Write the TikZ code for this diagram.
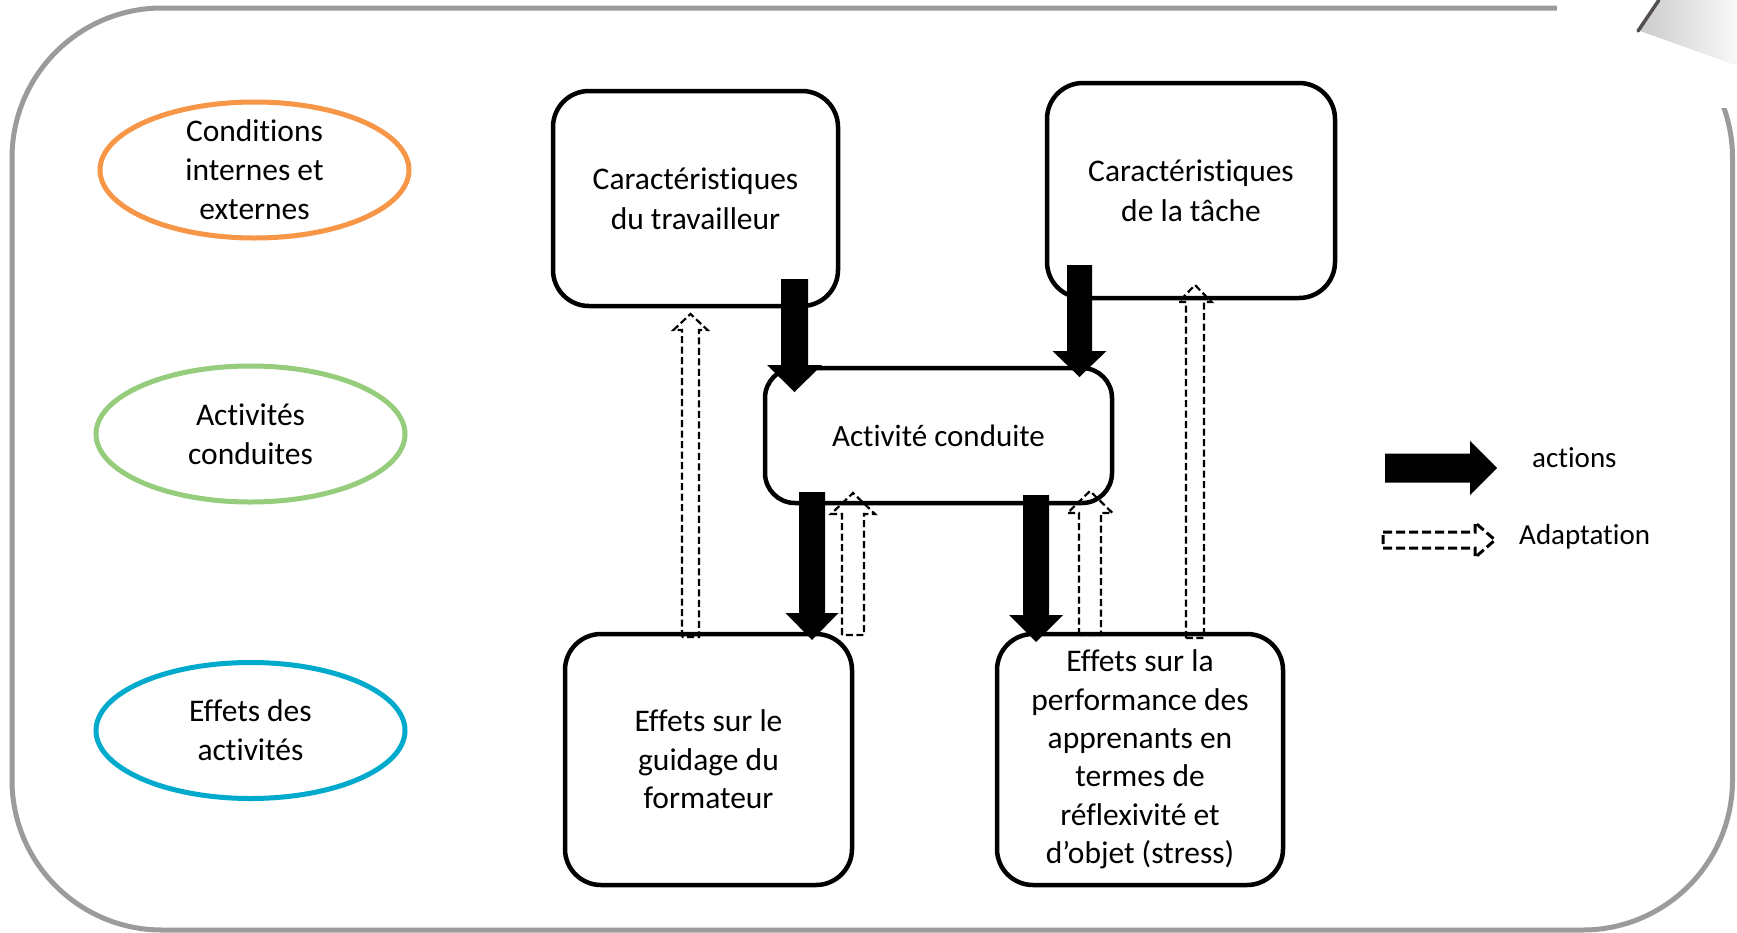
\documentclass[tikz,border=0pt]{standalone}
\usepackage{fontspec}
\setmainfont{Carlito}[Ligatures=NoCommon]
\usetikzlibrary{calc,shapes.geometric}
\definecolor{frameg}{RGB}{155,155,155}
\definecolor{corange}{RGB}{247,150,70}
\definecolor{cgreen}{RGB}{150,205,125}
\definecolor{cblue}{RGB}{0,170,204}
\definecolor{foldc}{RGB}{85,78,78}
% #1 style, #2 from, #3 to (tip), #4 half shaft, #5 half head, #6 head length
\newcommand\blockarrow[6]{%
  \coordinate (bahead) at ($(#3)!#6!(#2)$);
  \path[#1] ($(#2)!#4!90:(#3)$) -- ($(bahead)!#4!90:(#3)$) -- ($(bahead)!#5!90:(#3)$)
    -- (#3) -- ($(bahead)!#5!-90:(#3)$) -- ($(bahead)!#4!-90:(#3)$)
    -- ($(#2)!#4!-90:(#3)$) -- cycle;}
\begin{document}
\begin{tikzpicture}[x=1pt,y=-1pt,
  font=\fontsize{31.5pt}{38.4pt}\selectfont,
  box/.style={draw, line width=4.5pt, rounded corners=36pt, align=center, inner sep=0pt, outer sep=0pt, fill=white},
  ell/.style={draw, ellipse, line width=5pt, inner sep=0pt, outer sep=0pt, minimum width=309pt, minimum height=136pt},
  txt/.style={align=center, inner sep=0pt, font=\fontsize{31.5pt}{39pt}\selectfont},
  solidarr/.style={fill=black},
  dasharr/.style={draw=black, line width=2.2pt, dash pattern=on 7pt off 3.5pt, line join=miter},
  legdash/.style={draw=black, line width=3pt, dash pattern=on 9pt off 4pt, line join=miter},
  legtxt/.style={anchor=west, inner sep=0pt, font=\fontsize{29pt}{35pt}\selectfont}]
\useasboundingbox (0,0) rectangle (1737,932);
\fill[white] (0,0) rectangle (1737,932);
% frame
\draw[frameg, line width=5pt, rounded corners=150pt] (12,8) rectangle (1732.5,930);
% page curl
\fill[white] (1557,-3) rectangle (1740,108);
\shade[left color=gray!40, right color=gray!5] (1640,31) -- (1662,-1) -- (1738,-1) -- (1738,66) -- cycle;
\draw[foldc, line width=3.5pt, line cap=round] (1638,31) -- (1659,0);
% ellipses
\node[ell, draw=corange] (cond) at (254.5,170) {};
\node[txt] (condt) at (cond) {Conditions\\internes et\\externes};
\node[ell, draw=cgreen] (acts) at (250.5,434) {};
\node[txt] (actst) at (acts) {Activités\\conduites};
\node[ell, draw=cblue] (eff) at (250.5,730.5) {};
\node[txt] (efft) at (eff) {Effets des\\activités};
% boxes
\node[box, minimum width=285pt, minimum height=215pt, font=\fontsize{31.5pt}{40pt}\selectfont] (trav) at (695.5,198.5) {Caractéristiques\\du travailleur};
\node[box, minimum width=288pt, minimum height=215pt, font=\fontsize{31.5pt}{40pt}\selectfont] (tache) at (1191,190.5) {Caractéristiques\\de la tâche};
\node[box, rounded corners=30pt, minimum width=347pt, minimum height=135pt, font=\fontsize{31pt}{37pt}\selectfont] (act) at (938.5,435.5) {Activité conduite};
\node[box, minimum width=287pt, minimum height=251pt] (guid) at (708.5,759.5) {Effets sur le\\guidage du\\formateur};
\node[box, minimum width=286pt, minimum height=251pt] (perf) at (1140,759.5) {Effets sur la\\performance des\\apprenants en\\termes de\\réflexivité et\\d’objet (stress)};
% action arrows
\coordinate (a1s) at ($(trav.south east)+(-43.5,-27)$);
\coordinate (a1e) at ($(act.north west)+(29.5,24)$);
\blockarrow{solidarr}{a1s}{a1e}{13.5pt}{27.5pt}{27pt}
\coordinate (a2s) at ($(tache.south west)+(32.5,-33)$);
\coordinate (a2e) at ($(act.north east)+(-32.5,9)$);
\blockarrow{solidarr}{a2s}{a2e}{12.5pt}{27pt}{26pt}
\coordinate (a3s) at ($(act.south west)+(47,-11)$);
\coordinate (a3e) at ($(guid.north east)+(-40,6)$);
\blockarrow{solidarr}{a3s}{a3e}{13pt}{26.5pt}{27pt}
\coordinate (a4s) at ($(act.south east)+(-76,-8)$);
\coordinate (a4e) at ($(perf.north west)+(39,8)$);
\blockarrow{solidarr}{a4s}{a4e}{13pt}{27pt}{27pt}
% adaptation arrows
\coordinate (d1s) at ($(guid.north west)+(125.5,3)$);
\coordinate (d1e) at ($(trav.south west)+(137.5,8)$);
\blockarrow{dasharr}{d1s}{d1e}{8.5pt}{17pt}{16pt}
\coordinate (d2s) at ($(guid.north east)+(1,1)$);
\coordinate (d2e) at ($(act.south west)+(88,-10)$);
\blockarrow{dasharr}{d2s}{d2e}{11pt}{22pt}{21pt}
\coordinate (d3s) at ($(perf.north west)+(93,1)$);
\coordinate (d3e) at ($(act.south east)+(-22,-12)$);
\blockarrow{dasharr}{d3s}{d3e}{11pt}{22.5pt}{22pt}
\coordinate (d4s) at ($(perf.north east)+(-88,4)$);
\coordinate (d4e) at ($(tache.south west)+(148,-13)$);
\blockarrow{dasharr}{d4s}{d4e}{9pt}{16.5pt}{17pt}
% legend
\coordinate (la1) at (1385,468);
\coordinate (la2) at (1497,468);
\blockarrow{solidarr}{la1}{la2}{14.5pt}{27pt}{27pt}
\node[legtxt] (lact) at (1532,458) {actions};
\coordinate (lb1) at (1383,540);
\coordinate (lb2) at (1495,540);
\blockarrow{legdash}{lb1}{lb2}{8pt}{17.5pt}{20pt}
\node[legtxt] (ladp) at (1519,537) {Adaptation};
\end{tikzpicture}
\end{document}
